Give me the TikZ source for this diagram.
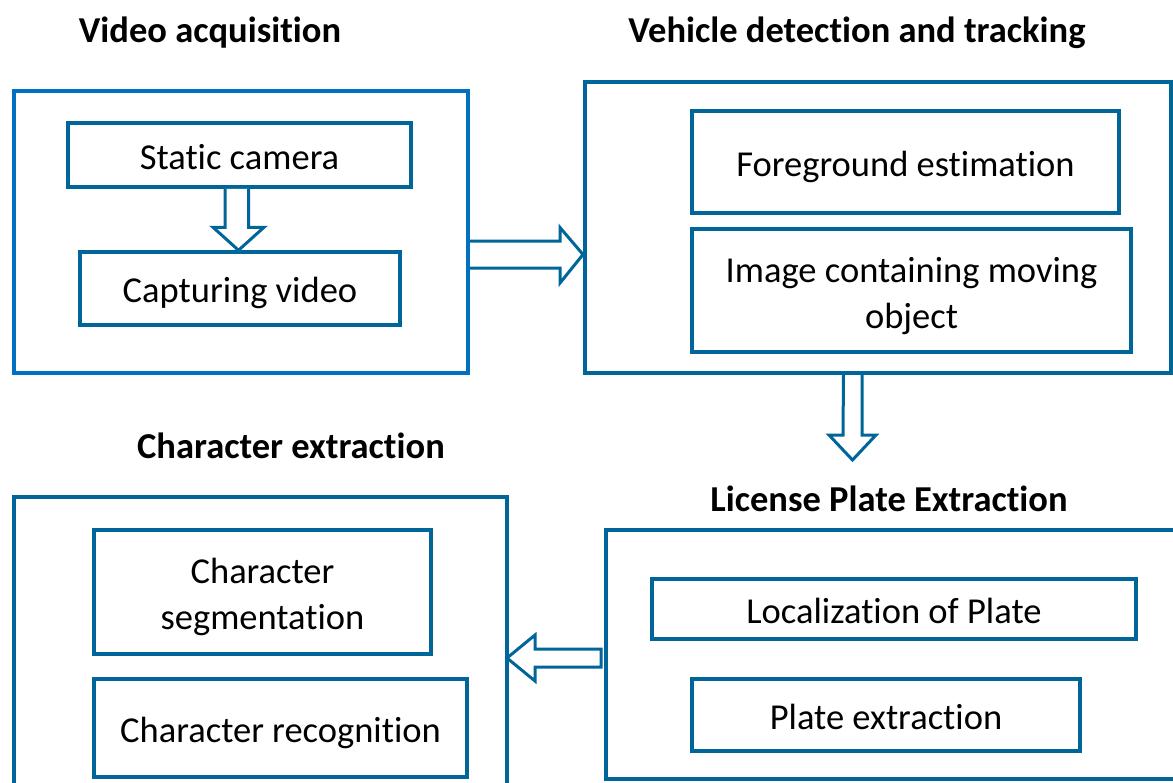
\documentclass[tikz,border=0pt]{standalone}
\usepackage{fontspec}
\setmainfont[Ligatures=NoCommon]{Carlito}
\usetikzlibrary{calc}
\definecolor{dblue}{RGB}{0,102,153}
\definecolor{lblue}{RGB}{0,112,192}
\begin{document}
\begin{tikzpicture}[x=1pt,y=-1pt,
  inner/.style={draw=dblue,line width=3.5pt,align=center,inner sep=0pt,text height=28pt,text depth=0pt},
  twoline/.style={text height=75pt,text depth=0pt},
  title/.style={font=\fontsize{36.5}{46}\selectfont\bfseries},
  barrow/.style={draw=dblue,line width=3pt,fill=white,line join=miter},
  every node/.style={font=\fontsize{36.5}{46}\selectfont}]
\useasboundingbox (0,0) rectangle (1173,782);
% outer boxes
\node[draw=lblue,line width=4pt,minimum width=454pt,minimum height=282pt] (b1) at (241,232) {};
\node[draw=dblue,line width=4pt,minimum width=586pt,minimum height=291pt] (b2) at (878,227.5) {};
\node[draw=dblue,line width=4pt,minimum width=493pt,minimum height=320pt] (b3) at (260.5,657) {};
\node[draw=dblue,line width=4pt,minimum width=584pt,minimum height=249pt] (b4) at (898,654.5) {};
% titles
\node[title] (t1) at (210,33) {Video acquisition};
\node[title] (t2) at (857,33) {Vehicle detection and tracking};
\node[title] (t3) at (291,446) {Character extraction};
\node[title] (t4) at (889,499) {License Plate Extraction};
% inner boxes
\node[inner,minimum width=343pt,minimum height=64pt] (sc) at (239.5,155) {Static camera};
\node[inner,minimum width=320pt,minimum height=73pt] (cv) at (240,288.5) {Capturing video};
\node[inner,minimum width=427pt,minimum height=102pt] (fe) at (905.5,162) {Foreground estimation};
\node[inner,twoline,minimum width=439pt,minimum height=123pt] (im) at (911.5,290.5) {Image containing moving\\object};
\node[inner,twoline,minimum width=337pt,minimum height=124pt] (cs) at (262.5,592) {Character\\segmentation};
\node[inner,minimum width=373pt,minimum height=98pt] (cr) at (280.5,728) {Character recognition};
\node[inner,minimum width=484pt,minimum height=60pt] (lp) at (894,609) {Localization of Plate};
\node[inner,minimum width=388pt,minimum height=72pt] (pe) at (886,715) {Plate extraction};
% block arrows
% sc -> cv
\draw[barrow] ($(sc.south)+(-14.5,0)$) -- ($(cv.north)+(-15,-23)$) -- ($(cv.north)+(-27,-23)$)
  -- ($(cv.north)+(-1.5,0)$) -- ($(cv.north)+(24,-23)$) -- ($(cv.north)+(8.5,-23)$) -- ($(sc.south)+(9,0)$);
% b1 -> b2
\draw[barrow] ($(b1.east)+(0,9)$) -- ($(b2.west)+(-23,13.5)$) -- ($(b2.west)+(-23,0)$)
  -- ($(b2.west)+(0,27)$) -- ($(b2.west)+(-23,55.5)$) -- ($(b2.west)+(-23,40.5)$) -- ($(b1.east)+(0,36)$);
% b2 -> b4
\coordinate (tip3) at (852.5,460);
\draw[barrow] ($(b2.south)+(-34.5,0)$) -- ($(tip3)+(-9.5,-25)$) -- ($(tip3)+(-23.5,-25)$)
  -- (tip3) -- ($(tip3)+(23.5,-25)$) -- ($(tip3)+(9.5,-25)$) -- ($(b2.south)+(-16,0)$);
% b4 -> b3
\coordinate (tip4) at (507,658);
\coordinate (tail4) at (601,658);
\draw[barrow] (tip4) -- ($(tip4)+(28,-23)$) -- ($(tip4)+(28,-9)$) -- ($(tail4)+(0,-9)$)
  -- ($(tail4)+(0,9)$) -- ($(tip4)+(28,9)$) -- ($(tip4)+(28,23)$) -- cycle;
\end{tikzpicture}
\end{document}
